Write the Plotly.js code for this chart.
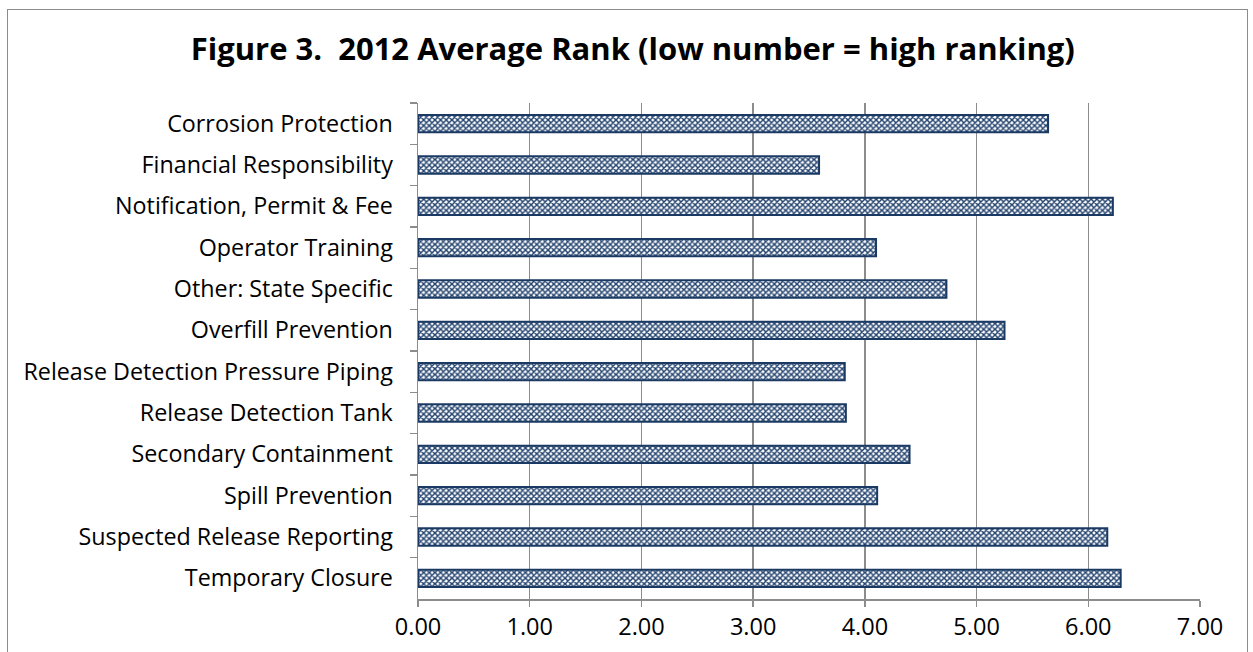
<!DOCTYPE html>
<html>
<head>
<meta charset="utf-8">
<script src="https://cdn.plot.ly/plotly-3.0.1.min.js"></script>
<style>
  html, body { margin: 0; padding: 0; background: #ffffff; }
  #frame { position: absolute; left: 7px; top: 9px; width: 1239px; height: 700px; border: 1.5px solid #8c8c8c; }
  #chart { position: absolute; left: 0; top: 0; width: 1253px; height: 652px; }
</style>
</head>
<body>
<div id="frame"></div>
<div id="chart"></div>
<script>
const categories = [
  "Corrosion Protection",
  "Financial Responsibility",
  "Notification, Permit & Fee",
  "Operator Training",
  "Other: State Specific",
  "Overfill Prevention",
  "Release Detection Pressure Piping",
  "Release Detection Tank",
  "Secondary Containment",
  "Spill Prevention",
  "Suspected Release Reporting",
  "Temporary Closure"
];
const avgRank = [5.64, 3.59, 6.22, 4.10, 4.73, 5.25, 3.82, 3.83, 4.40, 4.11, 6.17, 6.29];
const tickValues = [0, 1, 2, 3, 4, 5, 6, 7];
const tickLabels = ["0.00", "1.00", "2.00", "3.00", "4.00", "5.00", "6.00", "7.00"];

const trace = {
  type: "bar",
  orientation: "h",
  x: avgRank,
  y: categories,
  width: 0.42,
  marker: {
    color: "#ffffff",
    line: { color: "#1b3a63", width: 2 },
    pattern: { shape: "x", fgcolor: "#22426e", bgcolor: "#ffffff", size: 4, solidity: 0.6, fillmode: "replace" }
  },
  hoverinfo: "x+y"
};

const layout = {
  width: 1253,
  height: 652,
  paper_bgcolor: "rgba(0,0,0,0)",
  plot_bgcolor: "rgba(0,0,0,0)",
  margin: { l: 418, r: 53, t: 103, b: 53, pad: 0 },
  showlegend: false,
  font: { family: "'Open Sans', sans-serif", color: "#000000", size: 23 },
  title: {
    text: "<b>Figure 3.  2012 Average Rank (low number = high ranking)</b>",
    font: { family: "'Open Sans', sans-serif", size: 31, color: "#000000" },
    x: 0.505, xref: "container", xanchor: "center",
    y: 0.925, yref: "container", yanchor: "middle"
  },
  xaxis: {
    range: [0, 7],
    tickvals: tickValues,
    ticktext: tickLabels,
    showgrid: true,
    gridcolor: "#8c8c8c",
    gridwidth: 1.5,
    zeroline: false,
    showline: true,
    linecolor: "#8c8c8c",
    linewidth: 1.5,
    ticks: "outside",
    ticklen: 6,
    tickcolor: "#8c8c8c",
    tickwidth: 1.5,
    tickfont: { size: 23.5 },
    fixedrange: true
  },
  yaxis: {
    type: "category",
    autorange: "reversed",
    showgrid: false,
    showline: true,
    linecolor: "#8c8c8c",
    linewidth: 1.5,
    ticks: "outside",
    tickson: "boundaries",
    ticklen: 7,
    tickcolor: "#8c8c8c",
    tickwidth: 1.5,
    ticklabelstandoff: 19,
    tickfont: { size: 23.3 },
    fixedrange: true
  }
};

Plotly.newPlot("chart", [trace], layout, { displayModeBar: false, staticPlot: true });
</script>
</body>
</html>
